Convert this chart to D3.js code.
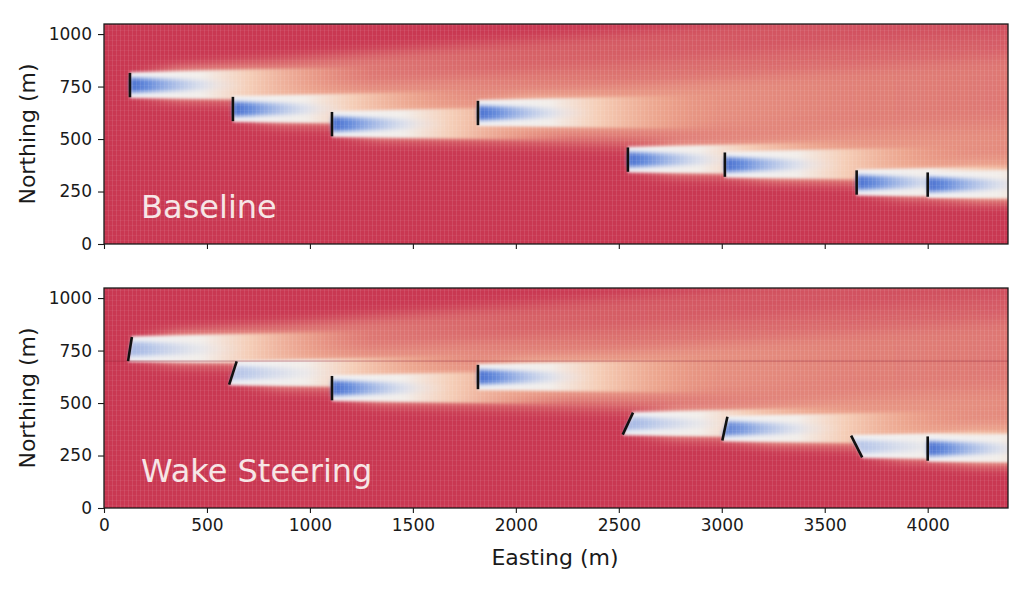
<!DOCTYPE html>
<html><head><meta charset="utf-8">
<script src="https://cdn.jsdelivr.net/npm/d3@7"></script>
<style>body{margin:0;background:#fff} text{font-family:"DejaVu Sans",sans-serif}</style>
</head><body><svg id="c" width="1024" height="597"></svg>
<script>
// ---- data ----
const turbineX = [126, 626, 1107, 1816, 2544, 3015, 3655, 4000];   // Easting (m)
const turbineY = [757, 643, 571, 624, 402, 378, 293, 283];         // Northing (m)
const panelNames = ["Baseline", "Wake Steering"];
const yawBaseline = [0, 0, 0, 0, 0, 0, 0, 0];                       // degrees
const yawSteering = [9, 18, 0, 0, 25, 12, -27, 0];
const deficitBaseline = [1, 1, 1, 1, 1, 1, 1, 1];                   // relative wake strength
const deficitSteering = [0.45, 0.35, 1, 1, 0.45, 0.85, 0.35, 1];
const xTicks = [0, 500, 1000, 1500, 2000, 2500, 3000, 3500, 4000];
const yTicks = [0, 250, 500, 750, 1000];
const rotorD = 116;           // m
const xDomain = [0, 4390];
const yDomain = [0, 1048];

const svg = d3.select("#c");
const defs = svg.append("defs");
const W = {left: 104, right: 1008};
const panels = [
  {name: panelNames[0], yaw: yawBaseline, def: deficitBaseline, top: 24, bottom: 244, labels: false},
  {name: panelNames[1], yaw: yawSteering, def: deficitSteering, top: 288, bottom: 508, labels: true}
];
const x = d3.scaleLinear(xDomain, [W.left, W.right]);

function blur(id, s) {
  defs.append("filter").attr("id", id).attr("x", "-20%").attr("y", "-50%").attr("width", "140%").attr("height", "200%")
    .append("feGaussianBlur").attr("stdDeviation", s);
}
blur("bPlume", 7); blur("bHalo", 1.6); blur("bCore", 2.0);

const pat = defs.append("pattern").attr("id", "tex").attr("patternUnits", "userSpaceOnUse").attr("width", 4).attr("height", 5);
pat.append("rect").attr("x", 0).attr("y", 0).attr("width", 1).attr("height", 5).attr("fill", "#fff").attr("opacity", 0.09);
pat.append("rect").attr("x", 0).attr("y", 0).attr("width", 4).attr("height", 1).attr("fill", "#fff").attr("opacity", 0.05);

let gid = 0;
function grad(x1, x2, stops) {
  const id = "g" + (gid++);
  const g = defs.append("linearGradient").attr("id", id).attr("gradientUnits", "userSpaceOnUse")
    .attr("x1", x1).attr("x2", x2).attr("y1", 0).attr("y2", 0);
  stops.forEach(s => g.append("stop").attr("offset", s[0]).attr("stop-color", s[1]).attr("stop-opacity", s[2]));
  return "url(#" + id + ")";
}

panels.forEach((p, pi) => {
  const y = d3.scaleLinear(yDomain, [p.bottom, p.top]);
  const pxPerM = (p.bottom - p.top) / (yDomain[1] - yDomain[0]);
  const clipId = "clip" + pi;
  defs.append("clipPath").attr("id", clipId).append("rect")
    .attr("x", W.left).attr("y", p.top).attr("width", W.right - W.left).attr("height", p.bottom - p.top);
  const g = svg.append("g");
  const field = g.append("g").attr("clip-path", `url(#${clipId})`);
  field.append("rect").attr("x", W.left).attr("y", p.top).attr("width", W.right - W.left).attr("height", p.bottom - p.top)
    .attr("fill", "#c93852");

  const tur = turbineX.map((tx, i) => {
    const cx = x(tx), cy = y(turbineY[i]);
    const th = p.yaw[i] * Math.PI / 180;
    const r = rotorD / 2 * pxPerM;
    return {cx, cy, th, r, d: p.def[i],
      top: [cx + r * Math.sin(th), cy - r * Math.cos(th)],
      bot: [cx - r * Math.sin(th), cy + r * Math.cos(th)]};
  });
  function wakePoly(t, lenM, scale0, growUp, growDown) {
    const L = lenM * pxPerM;
    const hw = t.r * Math.cos(t.th) * scale0;
    const mid = (t.top[1] + t.bot[1]) / 2;
    return [[t.top[0] + (1 - scale0) * 0, mid - hw], [t.cx + L, mid - hw - growUp * pxPerM],
            [t.cx + L, mid + hw + growDown * pxPerM], [t.bot[0], mid + hw]];
  }
  const line = d3.line();
  // plumes (merged far wakes)
  tur.forEach(t => {
    const L = 4600 * pxPerM;
    field.append("path").attr("d", line(wakePoly(t, 4600, 1.0, 380, 150)) + "Z")
      .attr("filter", "url(#bPlume)")
      .attr("fill", grad(t.cx, t.cx + L, [[0, "#f3c2a6", 0.0], [0.05, "#f3bea2", 0.88], [0.15, "#eca58d", 0.72],
        [0.4, "#e48a7c", 0.52], [1, "#dc7474", 0.3]]));
  });
  // halos (white/peach near wake)
  tur.forEach(t => {
    const L = 1150 * pxPerM;
    field.append("path").attr("d", line(wakePoly(t, 1150, 1.06, 25, 15)) + "Z")
      .attr("filter", "url(#bHalo)")
      .attr("fill", grad(t.cx, t.cx + L, [[0, "#f0f1f4", 1], [0.3, "#f2ede9", 1], [0.5, "#f5cfb8", 0.95],
        [0.75, "#efae94", 0.6], [1, "#e8957f", 0]]));
  });
  // cores (velocity deficit)
  tur.forEach(t => {
    const L = 560 * pxPerM;
    const d = t.d;
    field.append("path").attr("d", line(wakePoly(t, 560, 0.6, -18, -18)) + "Z")
      .attr("filter", "url(#bCore)")
      .attr("fill", grad(t.cx, t.cx + L, [[0, "#4a70cf", d], [0.15, "#5f86da", d * 0.95], [0.45, "#9db5e7", d * 0.65],
        [0.75, "#d6ddf0", d * 0.25], [1, "#eeeeee", 0]]));
  });
  field.append("rect").attr("x", W.left).attr("y", p.top).attr("width", W.right - W.left).attr("height", p.bottom - p.top)
    .attr("fill", "url(#tex)");
  if (pi === 1) {
    field.append("line").attr("x1", W.left).attr("x2", W.right).attr("y1", y(700)).attr("y2", y(700))
      .attr("stroke", "#8e1f33").attr("stroke-width", 0.8).attr("opacity", 0.55);
  }
  g.selectAll(".tb").data(tur).join("line").attr("class", "tb")
    .attr("x1", t => t.top[0]).attr("y1", t => t.top[1]).attr("x2", t => t.bot[0]).attr("y2", t => t.bot[1])
    .attr("stroke", "#111").attr("stroke-width", 2.6).attr("stroke-linecap", "butt");

  g.append("text").attr("x", x(180)).attr("y", y(124)).text(p.name)
    .attr("font-size", 32).attr("fill", "#f6e6e6");

  g.append("rect").attr("x", W.left).attr("y", p.top).attr("width", W.right - W.left).attr("height", p.bottom - p.top)
    .attr("fill", "none").attr("stroke", "#1a1a1a").attr("stroke-width", 1.3);

  const ya = g.append("g").attr("transform", `translate(${W.left},0)`)
    .call(d3.axisLeft(y).tickValues(yTicks).tickSize(6).tickPadding(6).tickFormat(d3.format("d")));
  const xa = g.append("g").attr("transform", `translate(0,${p.bottom})`)
    .call(d3.axisBottom(x).tickValues(xTicks).tickSize(5).tickPadding(6).tickFormat(p.labels ? d3.format("d") : () => ""));
  [ya, xa].forEach(a => {
    a.select(".domain").remove();
    a.selectAll("text").attr("font-size", 17).attr("fill", "#1a1a1a").attr("font-family", "DejaVu Sans");
    a.selectAll("line").attr("stroke", "#1a1a1a").attr("stroke-width", 1.1);
  });
  svg.append("text").attr("transform", `translate(35,${(p.top + p.bottom) / 2}) rotate(-90)`)
    .attr("text-anchor", "middle").attr("font-size", 22).attr("fill", "#1a1a1a").text("Northing (m)");
});
svg.append("text").attr("x", 555).attr("y", 565).attr("text-anchor", "middle")
  .attr("font-size", 22).attr("fill", "#1a1a1a").text("Easting (m)");
</script></body></html>
